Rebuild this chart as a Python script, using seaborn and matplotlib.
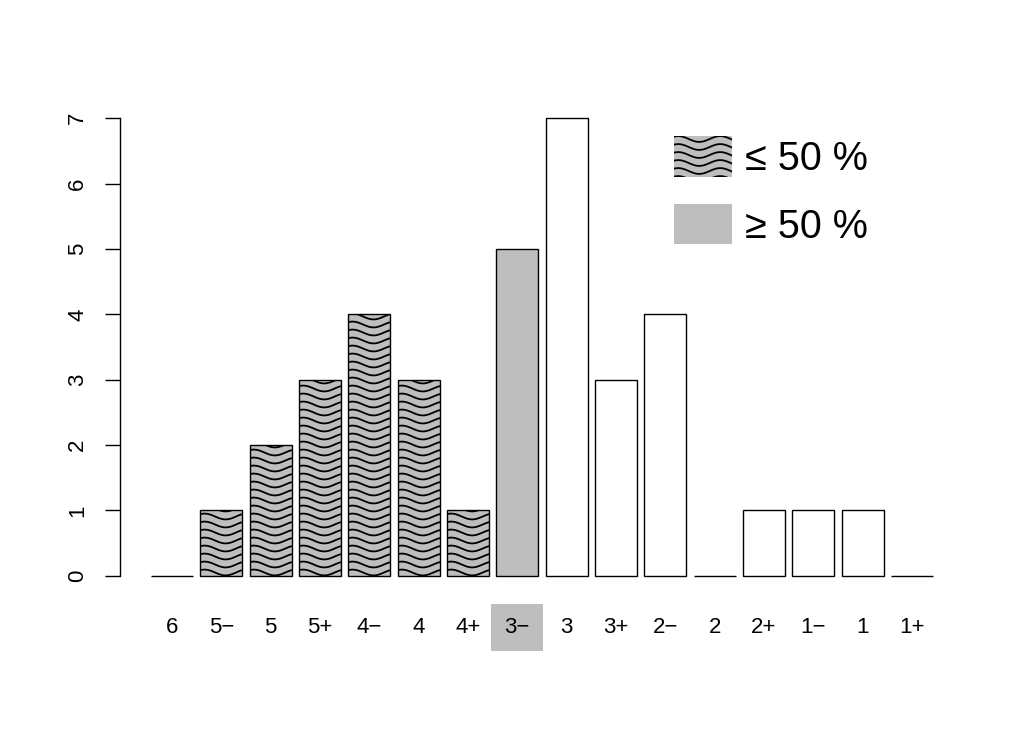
import numpy as np
import pandas as pd
import matplotlib
matplotlib.use("Agg")
import matplotlib.pyplot as plt
import seaborn as sns
from matplotlib.patches import Rectangle

# ---- data ----
grades = ["6", "5−", "5", "5+", "4−", "4", "4+", "3−", "3", "3+", "2−", "2", "2+", "1−", "1", "1+"]
counts = [0, 1, 2, 3, 4, 3, 1, 5, 7, 3, 4, 0, 1, 1, 1, 0]
groups = ["wave"] * 7 + ["gray"] + ["white"] * 8
legend_labels = ["≤ 50 %", "≥ 50 %"]
highlight = "3−"
y_ticks = [0, 1, 2, 3, 4, 5, 6, 7]

GRAY = "#BEBEBE"
fill = {"wave": GRAY, "gray": GRAY, "white": "white"}

sns.set_theme(style="white")
plt.rcParams['font.family'] = ['Liberation Sans', 'DejaVu Sans']

W, H = 1024, 731
fig = plt.figure(figsize=(W / 100, H / 100), dpi=100)
fig.patch.set_facecolor("white")
ax = fig.add_axes([120 / W, (H - 594) / H, 841 / W, 494 / H])

df = pd.DataFrame({"grade": grades, "count": counts})
sns.barplot(data=df, x="grade", y="count", hue="grade", order=grades, hue_order=grades,
            palette=[fill[g] for g in groups], saturation=1, width=0.85,
            edgecolor="black", linewidth=1.0, errorbar=None, legend=False, ax=ax)

ax.set_xlim(-1.054, 15.995)
ax.set_ylim(-0.28, 7.28)
ax.set_xlabel("")
ax.set_ylabel("")
ax.set_facecolor("white")
ax.grid(False)
for s in ["top", "right", "bottom"]:
    ax.spines[s].set_visible(False)
ax.spines["left"].set_bounds(0, 7)
ax.spines["left"].set_color("black")
ax.spines["left"].set_linewidth(1.0)

ax.set_yticks(y_ticks)
ax.set_yticklabels([str(v) for v in y_ticks], rotation=90, va="center")
ax.tick_params(axis="y", left=True, length=10.8, width=1, direction="out", pad=12,
               labelsize=16, color="black", labelcolor="black")
ax.tick_params(axis="x", bottom=False, length=0, pad=16.5, labelsize=16, labelcolor="black")

for lbl in ax.get_xticklabels():
    if lbl.get_text() == highlight:
        lbl.set_bbox(dict(facecolor=GRAY, edgecolor="none", boxstyle="square,pad=0.6"))

# ---- wavy hatching (display-pixel based) ----
SP, AMP, PER = 8.0, 2.9, 42.0
inv = ax.transData.inverted()
for patch, g in zip(ax.patches, groups):
    if g != "wave" or patch.get_height() <= 0:
        continue
    x0, y0 = ax.transData.transform((patch.get_x(), patch.get_y()))
    x1, y1 = ax.transData.transform((patch.get_x() + patch.get_width(),
                                     patch.get_y() + patch.get_height()))
    xs = np.linspace(x0, x1, 80)
    yk = y0 + SP * 0.4
    while yk < y1 + AMP + SP:
        ys = yk + AMP * np.cos(2 * np.pi * (xs - x0 - 0.1 * PER) / PER)
        pts = inv.transform(np.column_stack([xs, ys]))
        line, = ax.plot(pts[:, 0], pts[:, 1], color="black", lw=1.3, zorder=3)
        line.set_clip_path(patch)
        yk += SP

# ---- legend (overlay in pixel coordinates) ----
ov = fig.add_axes([0, 0, 1, 1])
ov.set_xlim(0, W)
ov.set_ylim(H, 0)
ov.axis("off")
ov.patch.set_alpha(0)

r1 = Rectangle((674, 136), 58, 41, facecolor=GRAY, edgecolor="none")
r2 = Rectangle((674, 204), 58, 40, facecolor=GRAY, edgecolor="none")
ov.add_patch(r1)
ov.add_patch(r2)
xs = np.linspace(674, 732, 100)
yk = 136 + 3
while yk < 177 + SP:
    ys = yk - AMP * np.cos(2 * np.pi * (xs - 674 - 0.1 * PER) / PER)
    line, = ov.plot(xs, ys, color="black", lw=1.3)
    line.set_clip_path(r1)
    yk += SP
ov.text(745, 159, legend_labels[0], fontsize=28.5, va="center", ha="left", color="black")
ov.text(745, 227, legend_labels[1], fontsize=28.5, va="center", ha="left", color="black")

fig.savefig("out.png", dpi=100)
